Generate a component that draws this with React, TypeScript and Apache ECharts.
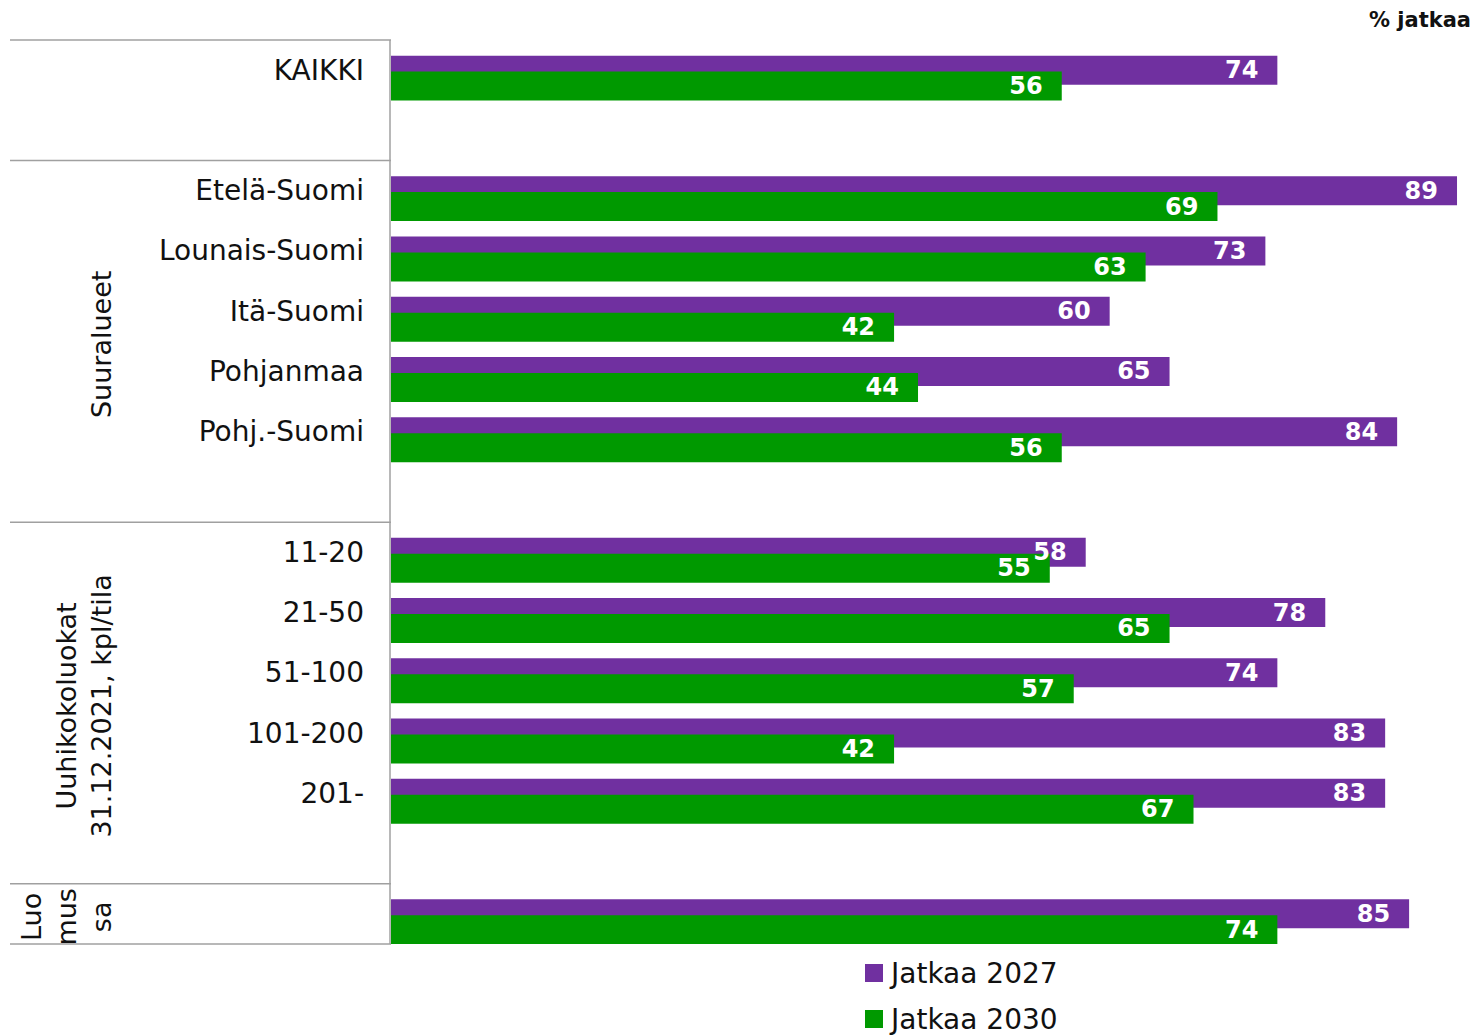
import React, { useEffect, useRef } from "react";
import * as echarts from "echarts";

const categories = [
  "KAIKKI",
  "",
  "Etelä-Suomi",
  "Lounais-Suomi",
  "Itä-Suomi",
  "Pohjanmaa",
  "Pohj.-Suomi",
  " ",
  "11-20",
  "21-50",
  "51-100",
  "101-200",
  "201-",
  "  ",
  "Luomussa",
];
const jatkaa2027 = [74, null, 89, 73, 60, 65, 84, null, 58, 78, 74, 83, 83, null, 85];
const jatkaa2030 = [56, null, 69, 63, 42, 44, 56, null, 55, 65, 57, 42, 67, null, 74];
const seriesNames = ["Jatkaa 2027", "Jatkaa 2030"];
const groupTitles = ["Suuralueet", "Uuhikokoluokat\n31.12.2021, kpl/tila", "Luo\nmus\nsa"];
const groupRanges = [
  [2, 8],
  [8, 14],
  [14, 15],
];
const separatorRows = [0, 2, 8, 14, 15];
const unitLabel = "% jatkaa";

const PURPLE = "#7030A0";
const GREEN = "#009900";
const FONT = "'DejaVu Sans', Verdana, sans-serif";
const TEXT = "#111111";

const W = 1477;
const H = 1036;
const GRID_TOP = 40;
const GRID_H = 904;
const GRID_LEFT = 391;
const GRID_W = 1078;

export default function App() {
  const ref = useRef<HTMLDivElement>(null);
  useEffect(() => {
    if (!ref.current) return;
    const chart = echarts.init(ref.current, null, { renderer: "svg" });
    const band = GRID_H / categories.length;
    const groupX = [101, 84, 66];

    const graphic: any[] = [];
    separatorRows.forEach((r) => {
      const y = GRID_TOP + r * band;
      graphic.push({
        type: "line",
        shape: { x1: 10, y1: y, x2: 391, y2: y },
        style: { stroke: "#A0A0A0", lineWidth: 1.5 },
        silent: true,
      });
    });
    graphic.push({
      type: "line",
      shape: { x1: 390, y1: GRID_TOP, x2: 390, y2: GRID_TOP + GRID_H },
      style: { stroke: "#A0A0A0", lineWidth: 1.5 },
      silent: true,
    });
    groupTitles.forEach((t, i) => {
      const [a, b] = groupRanges[i];
      graphic.push({
        type: "text",
        x: groupX[i],
        y: GRID_TOP + ((a + b) / 2) * band + 3,
        rotation: Math.PI / 2,
        style: {
          text: t,
          fill: TEXT,
          fontSize: 27,
          fontFamily: FONT,
          textAlign: "center",
          textVerticalAlign: "middle",
          lineHeight: 35,
        },
        silent: true,
      });
    });
    graphic.push({
      type: "text",
      right: 6,
      top: 9,
      style: {
        text: unitLabel,
        fill: TEXT,
        fontSize: 21,
        fontWeight: "bold",
        fontFamily: FONT,
      },
      silent: true,
    });

    const labelCfg = {
      show: true,
      position: "insideRight",
      distance: 19,
      color: "#ffffff",
      fontSize: 24,
      fontWeight: "bold",
      fontFamily: FONT,
    };

    const legendBase = {
      orient: "vertical",
      left: 865,
      padding: 0,
      itemWidth: 18,
      itemHeight: 18,
      icon: "rect",
      textStyle: {
        color: TEXT,
        fontSize: 28,
        fontFamily: FONT,
        lineHeight: 26,
        padding: [0, 0, 0, 3],
      },
    };

    chart.setOption({
      animation: false,
      grid: { left: GRID_LEFT, top: GRID_TOP, width: GRID_W, height: GRID_H },
      xAxis: {
        type: "value",
        min: 0,
        max: 90,
        show: false,
        splitLine: { show: false },
      },
      yAxis: {
        type: "category",
        inverse: true,
        data: categories,
        axisLine: { show: false },
        axisTick: { show: false },
        axisLabel: {
          margin: 27,
          color: TEXT,
          fontSize: 28,
          fontFamily: FONT,
          formatter: (v: string) => (v === "Luomussa" ? "" : v),
        },
      },
      legend: [
        { ...legendBase, data: [seriesNames[0]], top: 959 },
        { ...legendBase, data: [seriesNames[1]], top: 1005 },
      ],
      graphic,
      series: [
        {
          name: "spacer",
          type: "bar",
          data: categories.map(() => null),
          barWidth: 29,
          barGap: "-45%",
          silent: true,
          itemStyle: { color: "transparent" },
        },
        {
          name: seriesNames[0],
          type: "bar",
          data: jatkaa2027,
          barWidth: 29,
          barGap: "-45%",
          itemStyle: { color: PURPLE },
          label: labelCfg,
        },
        {
          name: seriesNames[1],
          type: "bar",
          data: jatkaa2030,
          barWidth: 29,
          barGap: "-45%",
          itemStyle: { color: GREEN },
          label: labelCfg,
        },
      ],
    });
    return () => chart.dispose();
  }, []);
  return (
    <div
      ref={ref}
      style={{ position: "fixed", left: 0, top: 0, width: W, height: H, background: "#fff" }}
    />
  );
}
